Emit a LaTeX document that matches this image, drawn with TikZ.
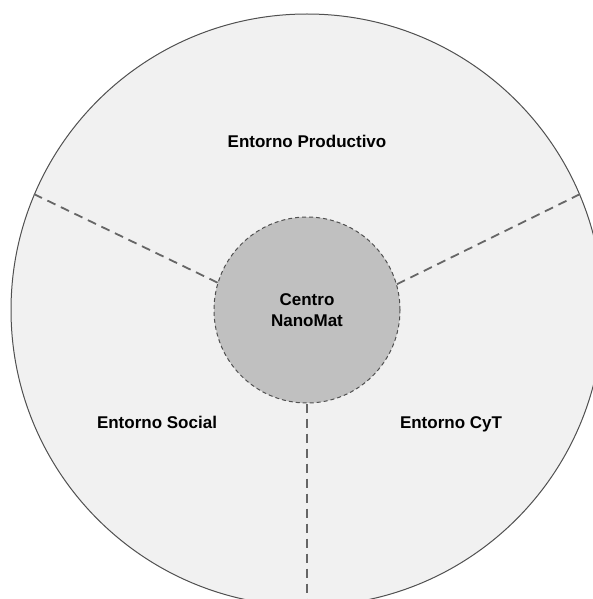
\documentclass[tikz,border=0pt]{standalone}
\usepackage{fontspec}
\setmainfont{Liberation Sans}
\usetikzlibrary{positioning}
\definecolor{ringfill}{HTML}{F1F1F1}
\definecolor{corefill}{HTML}{C0C0C0}
\definecolor{edgegray}{HTML}{505050}
\definecolor{dashgray}{HTML}{666666}

\begin{document}
\begin{tikzpicture}[x=1pt, y=-1pt,
   zone/.style={circle, draw=edgegray, fill=ringfill, line width=1pt, minimum size=592pt, inner sep=0pt},
   core/.style={circle, draw=edgegray, fill=corefill, line width=1pt, dash pattern=on 4pt off 3pt, minimum size=186pt, inner sep=0pt},
   divider/.style={draw=dashgray, line width=1.8pt, dash pattern=on 9pt off 6pt},
   txt/.style={font=\bfseries\fontsize{17}{21}\selectfont, align=center}]
   \useasboundingbox (0,0) rectangle (593,599);
   \node (env) at (307,310) [zone] {};
   \node (core) at (307,310) [core] {};
   \draw[divider] (core.163.5) -- (env.157);
   \draw[divider] (core.16.5) -- (env.23);
   \draw[divider] (core.270) -- (env.270);
   \node (centro) at (307,310) [txt] {Centro\\NanoMat};
   \node (prod) at (307,147) [txt, anchor=base] {Entorno Productivo};
   \node (social) at (157,428) [txt, anchor=base] {Entorno Social};
   \node (cyt) at (451,428) [txt, anchor=base] {Entorno CyT};
\end{tikzpicture}
\end{document}
